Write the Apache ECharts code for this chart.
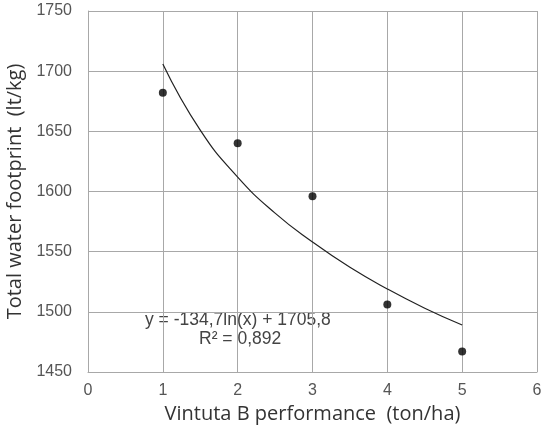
<!DOCTYPE html>
<html>
<head>
<meta charset="utf-8">
<script src="https://cdn.jsdelivr.net/npm/echarts@6/dist/echarts.min.js"></script>
<style>
  html, body { margin: 0; padding: 0; background: #fff; }
  #chart { width: 545px; height: 436px; }
</style>
</head>
<body>
<div id="chart"></div>
<script>
// measured points
const pointX = [1, 2, 3, 4, 5];
const pointY = [1682, 1640, 1596, 1506, 1467];
// trend curve
const trendX = [1, 1.5, 2, 2.5, 3, 3.5, 4, 4.5, 5];
const trendY = [1706, 1651, 1612, 1582, 1558, 1537, 1519, 1503, 1489];
const eqText = 'y = -134,7ln(x) + 1705,8';
const r2Text = 'R² = 0,892';

const chart = echarts.init(document.getElementById('chart'));

const gridColor = '#a8a8a8';
const textColor = '#555';

const option = {
  animation: false,
  grid: { left: 88, right: 8, top: 11, bottom: 64, outerBoundsMode: 'none' },
  xAxis: {
    type: 'value',
    min: 0, max: 6, interval: 1,
    name: 'Vintuta B performance  (ton/ha)',
    nameLocation: 'middle',
    nameGap: 29,
    nameTextStyle: { fontFamily: 'Open Sans', fontSize: 20, color: '#333' },
    axisLine: { lineStyle: { color: gridColor } },
    axisTick: { show: false },
    axisLabel: { fontFamily: 'Liberation Sans', fontSize: 16, color: textColor, margin: 11 },
    splitLine: { show: true, lineStyle: { color: gridColor, width: 1 } }
  },
  yAxis: {
    type: 'value',
    min: 1450, max: 1750, interval: 50,
    name: 'Total water footprint  (lt/kg)',
    nameLocation: 'middle',
    nameGap: 57,
    nameTextStyle: { fontFamily: 'Open Sans', fontSize: 20, color: '#333' },
    axisLine: { show: true, lineStyle: { color: gridColor } },
    axisTick: { show: false },
    axisLabel: {
      fontFamily: 'Liberation Sans', fontSize: 16, color: textColor, margin: 16,
      formatter: v => String(v)
    },
    splitLine: { show: true, lineStyle: { color: gridColor, width: 1 } }
  },
  series: [
    {
      type: 'line',
      data: trendX.map((x, i) => [x, trendY[i]]),
      smooth: true,
      symbol: 'none',
      lineStyle: { color: '#222', width: 1.2 },
      z: 2
    },
    {
      type: 'scatter',
      data: pointX.map((x, i) => [x, pointY[i]]),
      symbolSize: 8,
      itemStyle: { color: '#000' },
      z: 3
    }
  ],
  graphic: [
    {
      type: 'text', left: 145, top: 311,
      style: { text: eqText, fontFamily: 'Liberation Sans', fontSize: 17.5, fill: '#444' }
    },
    {
      type: 'text', left: 199, top: 330,
      style: { text: r2Text, fontFamily: 'Liberation Sans', fontSize: 17.5, fill: '#444' }
    }
  ]
};

chart.setOption(option);
window.addEventListener('resize', () => chart.resize());
</script>
</body>
</html>
